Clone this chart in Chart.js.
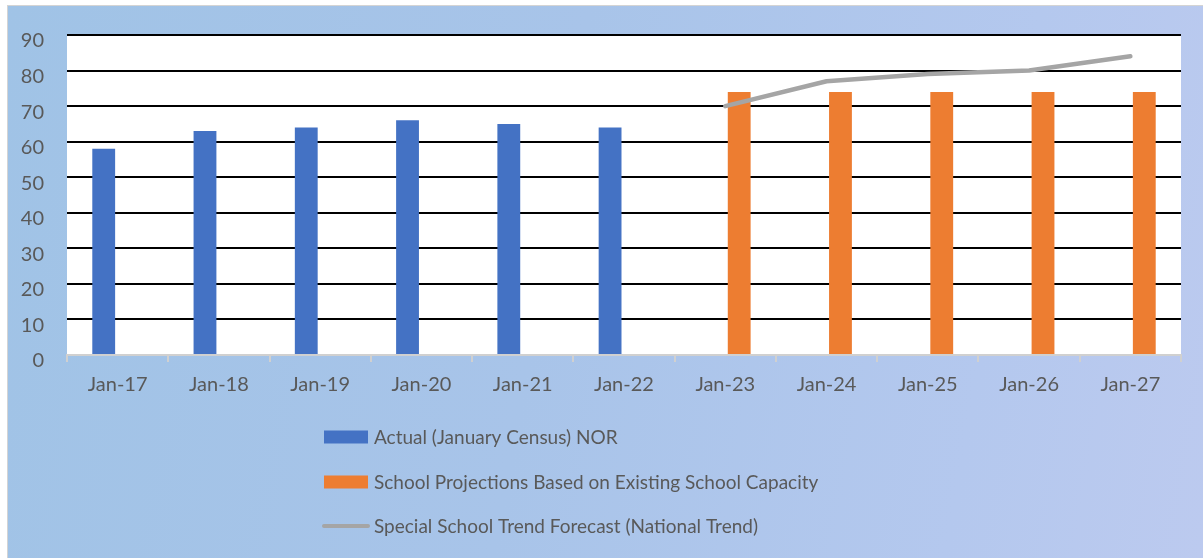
<!DOCTYPE html>
<html>
<head>
<meta charset="utf-8">
<script src="https://cdn.jsdelivr.net/npm/chart.js@4"></script>
<style>
  html, body { margin: 0; padding: 0; background: #ffffff; width: 1203px; height: 558px; overflow: hidden; }
  #frame { position: absolute; left: 7px; top: 5px; width: 1196px; height: 553px;
    border-top: 1px solid #d4d4d4; border-left: 1px solid #d4d4d4;
    background: linear-gradient(100deg, #A0C3E6 0%, #A8C4E9 45%, #B4C8EE 80%, #BCCAEF 100%); }
  #wrap { position: absolute; left: 0; top: 0; width: 1203px; height: 558px; }
</style>
</head>
<body>
<div id="frame"></div>
<div id="wrap"><canvas id="c" width="1203" height="558"></canvas></div>
<script>
const categories = ["Jan-17","Jan-18","Jan-19","Jan-20","Jan-21","Jan-22","Jan-23","Jan-24","Jan-25","Jan-26","Jan-27"];
const actualNOR = [58, 63, 64, 66, 65, 64, null, null, null, null, null];
const schoolProjections = [null, null, null, null, null, null, 74, 74, 74, 74, 74];
const nationalTrend = [null, null, null, null, null, null, 70, 77, 79, 80, 84];
const yTicks = [0, 10, 20, 30, 40, 50, 60, 70, 80, 90];
const seriesNames = [
  "Actual (January Census) NOR",
  "School Projections Based on Existing School Capacity",
  "Special School Trend Forecast (National Trend)"
];

const FONT = "Lato, 'Open Sans', sans-serif";
const TEXT = "#595959";

const plotBg = {
  id: 'plotBg',
  beforeDraw(chart) {
    const a = chart.chartArea, ctx = chart.ctx;
    ctx.save();
    ctx.fillStyle = '#ffffff';
    ctx.fillRect(a.left, a.top, a.right - a.left, a.bottom - a.top);
    ctx.restore();
  }
};

const customLegend = {
  id: 'customLegend',
  afterDraw(chart) {
    const ctx = chart.ctx;
    const ds = chart.data.datasets;
    const rows = [437, 482, 526];
    ctx.save();
    ctx.font = "19px " + FONT;
    ctx.textBaseline = 'middle';
    ds.forEach((d, i) => {
      const y = rows[i];
      if (d.type === 'line') {
        ctx.strokeStyle = d.borderColor;
        ctx.lineWidth = 4;
        ctx.lineCap = 'round';
        ctx.beginPath();
        ctx.moveTo(324, y);
        ctx.lineTo(368, y);
        ctx.stroke();
      } else {
        ctx.fillStyle = d.backgroundColor;
        ctx.fillRect(324, y - 6.5, 44, 13);
      }
      ctx.fillStyle = TEXT;
      ctx.fillText(d.label, 374, y + 1);
    });
    ctx.restore();
  }
};

new Chart(document.getElementById('c'), {
  data: {
    labels: categories,
    datasets: [
      { type: 'bar', label: seriesNames[0], data: actualNOR, backgroundColor: '#4472C4',
        order: 2, categoryPercentage: 0.55, barPercentage: 0.82 },
      { type: 'bar', label: seriesNames[1], data: schoolProjections, backgroundColor: '#ED7D31',
        order: 2, categoryPercentage: 0.55, barPercentage: 0.82 },
      { type: 'line', label: seriesNames[2], data: nationalTrend, borderColor: '#A5A5A5',
        backgroundColor: '#A5A5A5', borderWidth: 4.5, pointRadius: 0, borderCapStyle: 'round',
        borderJoinStyle: 'round', tension: 0, spanGaps: false, order: 0 }
    ]
  },
  options: {
    responsive: false,
    animation: false,
    layout: { padding: { left: 0, right: 22, top: 33, bottom: 163 } },
    plugins: { legend: { display: false }, tooltip: { enabled: false }, title: { display: false } },
    scales: {
      x: {
        offset: true,
        grid: { offset: true, drawOnChartArea: false, drawTicks: true, tickLength: 7, color: '#d0d0d0', lineWidth: 2 },
        border: { display: true, color: '#d0d0d0', width: 2 },
        ticks: { color: TEXT, font: { family: FONT, size: 20 }, padding: 11, maxRotation: 0 },
        afterFit(s) { s.height = 40; }
      },
      y: {
        min: 0, max: 90,
        afterBuildTicks(s) { s.ticks = yTicks.map(v => ({ value: v })); },
        grid: { drawTicks: false, lineWidth: 2,
          color: (c) => (c.tick && c.tick.value === 0) ? '#d0d0d0' : '#000000' },
        border: { display: false },
        ticks: { color: TEXT, font: { family: FONT, size: 20 }, padding: 23, labelOffset: 6 },
        afterFit(s) { s.width = 67; }
      }
    }
  },
  plugins: [plotBg, customLegend]
});
</script>
</body>
</html>
